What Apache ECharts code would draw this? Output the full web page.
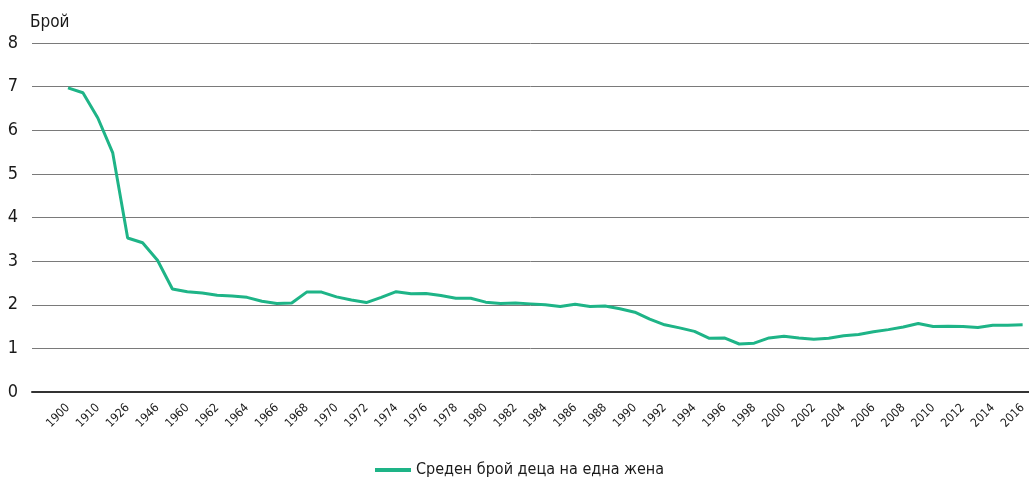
<!DOCTYPE html>
<html>
<head>
<meta charset="utf-8">
<script src="https://cdn.jsdelivr.net/npm/echarts@6/dist/echarts.min.js"></script>
<style>
  html, body { margin: 0; padding: 0; background: #fff; }
  #chart { width: 1029px; height: 481px; }
</style>
</head>
<body>
<div id="chart"></div>
<script>
// categories: labelled years every other point, unlabelled years in between
const years = [
  '1900', '1905', '1910', '1920', '1926', '1934', '1946', '1956',
  '1960', '1961', '1962', '1963', '1964', '1965', '1966', '1967', '1968', '1969',
  '1970', '1971', '1972', '1973', '1974', '1975', '1976', '1977', '1978', '1979',
  '1980', '1981', '1982', '1983', '1984', '1985', '1986', '1987', '1988', '1989',
  '1990', '1991', '1992', '1993', '1994', '1995', '1996', '1997', '1998', '1999',
  '2000', '2001', '2002', '2003', '2004', '2005', '2006', '2007', '2008', '2009',
  '2010', '2011', '2012', '2013', '2014', '2015', '2016'
]
const fertility = [
  6.97, 6.86, 6.28, 5.48, 3.53, 3.42, 3.02, 2.36,
  2.30, 2.27, 2.22, 2.20, 2.17, 2.08, 2.03, 2.04, 2.29, 2.29,
  2.18, 2.11, 2.05, 2.17, 2.30, 2.25, 2.26, 2.21, 2.15, 2.15,
  2.06, 2.03, 2.04, 2.02, 2.00, 1.96, 2.01, 1.96, 1.97, 1.91,
  1.83, 1.67, 1.54, 1.47, 1.39, 1.23, 1.24, 1.10, 1.12, 1.24,
  1.28, 1.24, 1.21, 1.23, 1.29, 1.32, 1.38, 1.43, 1.49, 1.57,
  1.50, 1.51, 1.50, 1.48, 1.53, 1.53, 1.54
]
const seriesName = 'Среден брой деца на една жена'
const yTitle = 'Брой'

const font = "'DejaVu Sans Condensed', 'Liberation Sans Narrow', 'Roboto', sans-serif"
const green = '#1eb487'

const chart = echarts.init(document.getElementById('chart'))
chart.setOption({
  backgroundColor: '#fff',
  animation: false,
  textStyle: { fontFamily: font },
  grid: [
    { left: 32, right: 0, top: 43, bottom: 89 },
    { left: 68, right: 1, top: 43, bottom: 89 }
  ],
  legend: {
    top: 457,
    left: 370,
    icon: 'rect',
    itemWidth: 36,
    itemHeight: 4,
    itemGap: 10,
    textStyle: { fontFamily: font, fontSize: 16, color: '#1a1a1a' },
    data: [seriesName]
  },
  xAxis: [
    {
      gridIndex: 0,
      type: 'category',
      data: years,
      axisLine: { show: true, lineStyle: { color: '#333', width: 2 } },
      axisTick: { show: false },
      axisLabel: { show: false },
      splitLine: { show: false }
    },
    {
      gridIndex: 1,
      type: 'category',
      boundaryGap: false,
      data: years,
      axisLine: { show: false },
      axisTick: { show: false },
      splitLine: { show: false },
      axisLabel: {
        interval: 1,
        rotate: 45,
        margin: 14,
        fontFamily: font,
        fontSize: 12,
        color: '#1a1a1a'
      }
    }
  ],
  yAxis: [
    {
      gridIndex: 0,
      type: 'value',
      min: 0,
      max: 8,
      interval: 1,
      name: yTitle,
      nameLocation: 'end',
      nameGap: 12,
      nameTextStyle: { fontFamily: font, fontSize: 17, color: '#1a1a1a', align: 'left', padding: [0, 0, 0, -2] },
      axisLine: { show: false },
      axisTick: { show: false },
      axisLabel: { fontFamily: font, fontSize: 18, color: '#1a1a1a', margin: 14 },
      splitLine: { show: true, lineStyle: { color: '#7a7a7a', width: 1 } }
    },
    {
      gridIndex: 1,
      type: 'value',
      min: 0,
      max: 8,
      interval: 1,
      show: false,
      splitLine: { show: false }
    }
  ],
  series: [
    {
      name: seriesName,
      type: 'line',
      xAxisIndex: 1,
      yAxisIndex: 1,
      data: fertility,
      showSymbol: false,
      symbol: 'none',
      lineStyle: { color: green, width: 3 },
      itemStyle: { color: green }
    }
  ]
})
</script>
</body>
</html>
